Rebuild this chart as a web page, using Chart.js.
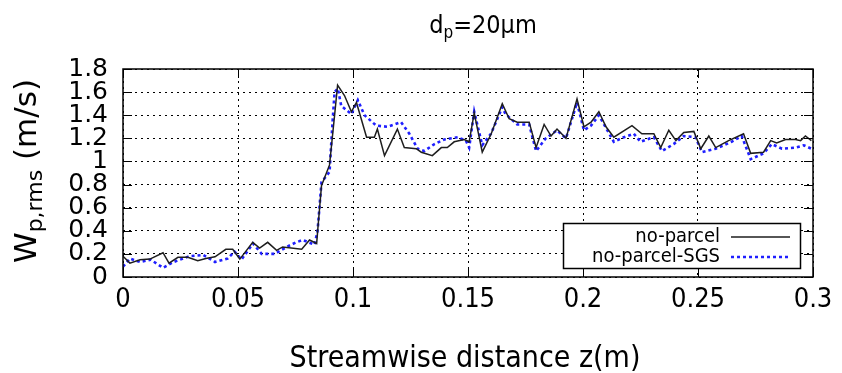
<!DOCTYPE html>
<html><head><meta charset="utf-8">
<script src="https://cdn.jsdelivr.net/npm/chart.js@4"></script>
<style>html,body{margin:0;padding:0;background:#fff}#wrap{width:842px;height:373px}</style>
</head><body><div id="wrap"><canvas id="c" width="842" height="373"></canvas></div>
<script>
// ---- data (streamwise distance z in m, W_p,rms in m/s) ----
const zNoParcel = [0.000,0.003,0.0074,0.0117,0.0174,0.020,0.0239,0.0282,0.0325,0.036,0.040,0.0447,0.0477,0.0508,0.0564,0.0594,0.0629,0.0668,0.0694,0.0777,0.0811,0.0842,0.0846,0.0863,0.0898,0.092,0.0933,0.0963,0.0993,0.1015,0.1059,0.1093,0.1106,0.1137,0.1193,0.1223,0.1275,0.1297,0.1345,0.1384,0.141,0.144,0.1484,0.1505,0.1527,0.1562,0.1601,0.1649,0.1679,0.1714,0.1766,0.1796,0.1831,0.1861,0.1887,0.1926,0.1974,0.2004,0.2035,0.2069,0.21,0.2134,0.2213,0.2256,0.2308,0.2338,0.2373,0.2404,0.2438,0.2482,0.2512,0.2547,0.2577,0.2633,0.2698,0.2729,0.2785,0.2816,0.2842,0.2881,0.2924,0.2946,0.2967,0.2993];
const wNoParcel = [0.18,0.12,0.15,0.155,0.21,0.12,0.17,0.17,0.14,0.16,0.175,0.24,0.24,0.155,0.30,0.25,0.30,0.23,0.26,0.24,0.32,0.29,0.39,0.79,0.97,1.40,1.66,1.57,1.43,1.51,1.21,1.21,1.28,1.05,1.28,1.12,1.11,1.08,1.05,1.12,1.12,1.17,1.19,1.17,1.42,1.08,1.24,1.50,1.37,1.34,1.34,1.12,1.32,1.22,1.28,1.20,1.54,1.30,1.34,1.43,1.30,1.21,1.31,1.24,1.24,1.12,1.27,1.18,1.25,1.26,1.11,1.22,1.12,1.18,1.24,1.07,1.08,1.18,1.16,1.19,1.19,1.18,1.22,1.18];
const zSGS = [0.000,0.003,0.0074,0.012,0.0174,0.022,0.029,0.035,0.040,0.0455,0.0485,0.0515,0.0565,0.0603,0.066,0.0711,0.0753,0.0781,0.0833,0.0846,0.0863,0.0898,0.0912,0.092,0.0934,0.0949,0.0993,0.1021,0.105,0.1101,0.1151,0.118,0.1209,0.1245,0.1281,0.131,0.1354,0.1397,0.1455,0.1491,0.1505,0.1527,0.1562,0.160,0.1649,0.1663,0.1714,0.1766,0.1796,0.1838,0.1887,0.1926,0.1974,0.2004,0.2035,0.2069,0.2134,0.2178,0.2221,0.225,0.2308,0.2343,0.2394,0.2438,0.2489,0.2517,0.2577,0.2646,0.269,0.2729,0.2785,0.2821,0.2865,0.2924,0.296,0.2993];
const wSGS = [0.09,0.16,0.13,0.15,0.08,0.13,0.18,0.19,0.13,0.16,0.22,0.15,0.29,0.20,0.20,0.26,0.30,0.32,0.28,0.40,0.82,0.91,1.37,1.60,1.63,1.48,1.41,1.53,1.40,1.31,1.30,1.32,1.34,1.24,1.11,1.09,1.15,1.19,1.21,1.18,1.12,1.43,1.14,1.24,1.47,1.41,1.32,1.32,1.09,1.20,1.27,1.20,1.51,1.27,1.31,1.40,1.17,1.21,1.24,1.17,1.21,1.09,1.15,1.22,1.21,1.08,1.11,1.17,1.22,1.02,1.07,1.15,1.11,1.12,1.14,1.11];
const seriesNames = ['no-parcel','no-parcel-SGS'];
const xTickLabels = ['0','0.05','0.1','0.15','0.2','0.25','0.3'];
const yTickLabels = ['0','0.2','0.4','0.6','0.8','1','1.2','1.4','1.6','1.8'];

const FONT = "'DejaVu Sans', sans-serif";
const FONTC = "'DejaVu Sans Condensed', 'DejaVu Sans', sans-serif";

const decor = {
  id: 'decor',
  afterDraw(chart) {
    const ctx = chart.ctx, a = chart.chartArea;
    ctx.save();
    // border box
    ctx.strokeStyle = '#000'; ctx.lineWidth = 1.5; ctx.setLineDash([]);
    ctx.strokeRect(a.left, a.top, a.right - a.left, a.bottom - a.top);
    // inward tick marks on all sides
    const tl = 9;
    ctx.lineWidth = 1;
    chart.scales.x.ticks.forEach(t => {
      const px = Math.round(chart.scales.x.getPixelForValue(t.value)) + 0.5;
      ctx.beginPath(); ctx.moveTo(px, a.bottom); ctx.lineTo(px, a.bottom - tl);
      ctx.moveTo(px, a.top); ctx.lineTo(px, a.top + tl); ctx.stroke();
    });
    chart.scales.y.ticks.forEach(t => {
      const py = Math.round(chart.scales.y.getPixelForValue(t.value)) + 0.5;
      ctx.beginPath(); ctx.moveTo(a.left, py); ctx.lineTo(a.left + tl, py);
      ctx.moveTo(a.right, py); ctx.lineTo(a.right - tl, py); ctx.stroke();
    });
    ctx.fillStyle = '#000';
    ctx.textBaseline = 'alphabetic';
    // title d_p=20µm
    {
      const big = '25px ' + FONTC, small = '17px ' + FONTC;
      ctx.font = big; const w1 = ctx.measureText('d').width, w3 = ctx.measureText('=20µm').width;
      ctx.font = small; const w2 = ctx.measureText('p').width;
      let x = 483 - (w1 + w2 + w3) / 2, y = 33;
      ctx.textAlign = 'left';
      ctx.font = big; ctx.fillText('d', x, y); x += w1;
      ctx.font = small; ctx.fillText('p', x, y + 5); x += w2;
      ctx.font = big; ctx.fillText('=20µm', x, y);
    }
    // x axis title
    ctx.font = '30px ' + FONTC; ctx.textAlign = 'center';
    ctx.fillText('Streamwise distance z(m)', 465, 367);
    // y axis title W_{p,rms} (m/s)
    {
      ctx.save();
      ctx.translate(36, 263); ctx.rotate(-Math.PI / 2);
      ctx.textAlign = 'left';
      const big = '31px ' + FONT, small = '22px ' + FONT;
      let x = 0;
      ctx.font = big; ctx.fillText('W', x, 0); x += ctx.measureText('W').width;
      ctx.font = small; ctx.fillText('p,rms', x, 6); x += ctx.measureText('p,rms').width;
      ctx.font = big; ctx.fillText(' (m/s)', x, 0);
      ctx.restore();
    }
    // legend
    {
      const bx = 563.5, by = 223.5, bw = 237, bh = 45;
      ctx.fillStyle = '#fff'; ctx.fillRect(bx, by, bw, bh);
      ctx.strokeStyle = '#000'; ctx.lineWidth = 1.5; ctx.strokeRect(bx, by, bw, bh);
      ctx.fillStyle = '#000'; ctx.font = '20px ' + FONTC; ctx.textAlign = 'right'; ctx.textBaseline = 'middle';
      const rows = [237, 257];
      chart.data.datasets.forEach((ds, i) => {
        ctx.fillText(seriesNames[i], 720, rows[i]);
        ctx.beginPath(); ctx.strokeStyle = ds.borderColor; ctx.lineWidth = ds.borderWidth;
        ctx.setLineDash(ds.borderDash || []);
        ctx.moveTo(731, rows[i]); ctx.lineTo(790, rows[i]); ctx.stroke();
      });
    }
    ctx.restore();
  }
};

new Chart(document.getElementById('c'), {
  type: 'line',
  data: {
    datasets: [
      { label: seriesNames[0], data: zNoParcel.map((z, i) => ({ x: z, y: wNoParcel[i] })),
        borderColor: '#1e1e1e', borderWidth: 1.5, pointRadius: 0, tension: 0, fill: false },
      { label: seriesNames[1], data: zSGS.map((z, i) => ({ x: z, y: wSGS[i] })),
        borderColor: '#1f1fff', borderWidth: 2.6, borderDash: [3, 3], pointRadius: 0, tension: 0, fill: false }
    ]
  },
  options: {
    responsive: false, animation: false, events: [],
    layout: { padding: { top: 69, right: 29, left: 0, bottom: 0 } },
    plugins: { legend: { display: false }, title: { display: false }, tooltip: { enabled: false } },
    scales: {
      x: {
        type: 'linear', min: 0, max: 0.3,
        ticks: { stepSize: 0.05, autoSkip: false, maxRotation: 0, color: '#000', padding: 7,
          font: { family: FONTC, size: 27 },
          callback: v => xTickLabels[Math.round(v / 0.05)] },
        grid: { color: '#000', lineWidth: 1, drawTicks: false },
        border: { display: false, dash: [2, 4] },
        afterFit: s => { s.height = 96; }
      },
      y: {
        type: 'linear', min: 0, max: 1.8,
        ticks: { stepSize: 0.2, autoSkip: false, color: '#000', padding: 15,
          font: { family: FONT, size: 25 },
          callback: v => yTickLabels[Math.round(v / 0.2)] },
        grid: { color: '#000', lineWidth: 1, drawTicks: false },
        border: { display: false, dash: [2, 4] },
        afterFit: s => { s.width = 123; }
      }
    }
  },
  plugins: [decor]
});
</script></body></html>
